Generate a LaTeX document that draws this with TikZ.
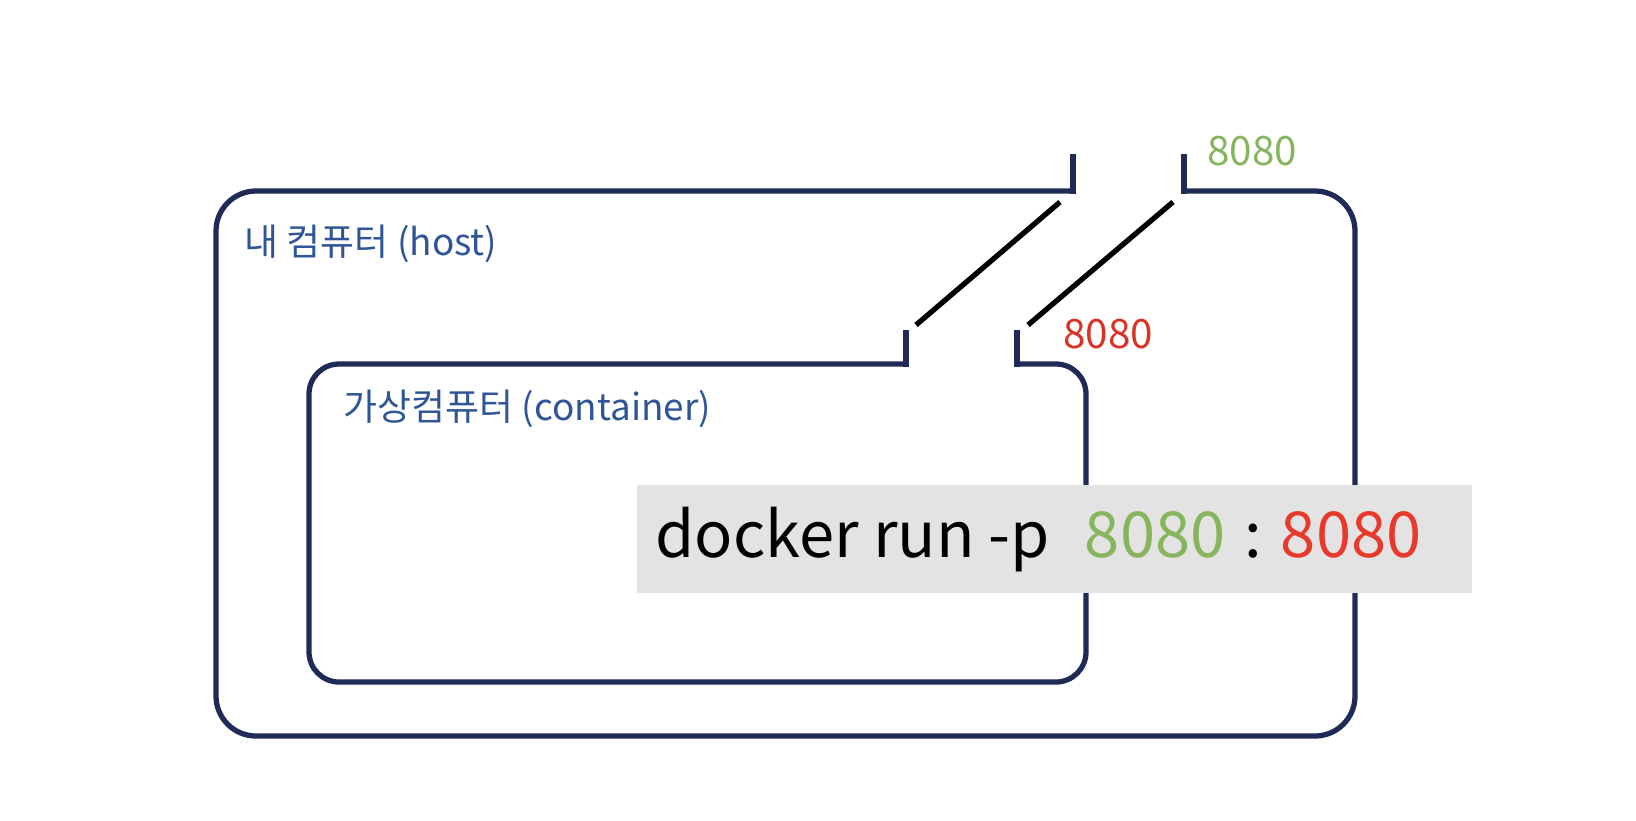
\documentclass[tikz,border=0pt]{standalone}
\usepackage{fontspec}
\setmainfont{Noto Sans CJK KR}
\usepackage{xcolor}
\usetikzlibrary{positioning}
\definecolor{framenavy}{HTML}{1F2B57}
\definecolor{labelblue}{HTML}{2F5597}
\definecolor{hostgreen}{HTML}{86B55E}
\definecolor{portred}{HTML}{D93325}
\definecolor{cmdred}{HTML}{E8392C}
\definecolor{cmdgray}{HTML}{E3E3E3}
\tikzstyle{frame} = [draw=framenavy, line width=1.5pt]
\tikzstyle{tick} = [draw=framenavy, line width=1.5pt, line cap=rect]
\tikzstyle{switch} = [draw=black, line width=1.5pt]
\tikzstyle{boxlabel} = [text=labelblue, anchor=west, inner sep=0pt, font=\fontsize{10.5}{12}\selectfont]
\tikzstyle{port} = [inner sep=0pt, font=\fontsize{11.5}{13}\selectfont]
\tikzstyle{cmdbox} = [fill=cmdgray, minimum width=8.35cm, minimum height=1.08cm, inner sep=0pt]

\begin{document}
\begin{tikzpicture}[x=0.01cm, y=-0.01cm]
                        \useasboundingbox (0,0) rectangle (1636,820);
                        % host frame, open at the top
                        \coordinate (hostL) at (1073,191);
                        \coordinate (hostR) at (1184,191);
                        \draw [frame, rounded corners=0.4cm] (hostL) -- (216,191) -- (216,736) -- (1355,736) -- (1355,191) -- (hostR);
                        \draw [tick] (hostL) -- ++(0,-34);
                        \draw [tick] (hostR) -- ++(0,-34);
                        % container frame, open at the top
                        \coordinate (ctrL) at (906,364);
                        \coordinate (ctrR) at (1017,364);
                        \draw [frame, rounded corners=0.3cm] (ctrL) -- (309,364) -- (309,682) -- (1086,682) -- (1086,364) -- (ctrR);
                        \draw [tick] (ctrL) -- ++(0,-31);
                        \draw [tick] (ctrR) -- ++(0,-31);
                        % links between the openings
                        \coordinate (swA1) at (1060,202);
                        \coordinate (swA2) at (916,325);
                        \coordinate (swB1) at (1173,202);
                        \coordinate (swB2) at (1028,325);
                        \draw [switch] (swA1) -- (swA2);
                        \draw [switch] (swB1) -- (swB2);
                        % labels
                        \node (hostlbl) [boxlabel] at (244,244) {내 컴퓨터 (host)};
                        \node (ctrlbl) [boxlabel] at (343,409) {가상컴퓨터 (container)};
                        \node (hostport) [port, text=hostgreen] at (1252,151) {8080};
                        \node (ctrport) [port, text=portred] at (1108,334) {8080};
                        % command
                        \node (cmd) [cmdbox] at (1054.5,539) {};
                        \node (cmdtxt) [anchor=base west, inner sep=0pt, font=\fontsize{18}{20}\selectfont] at (655,557)
                            {docker run -p\hspace{0.55em}\textcolor{hostgreen}{8080}\hspace{0.3em}:\hspace{0.3em}\textcolor{cmdred}{8080}};
                    \end{tikzpicture}
\end{document}
